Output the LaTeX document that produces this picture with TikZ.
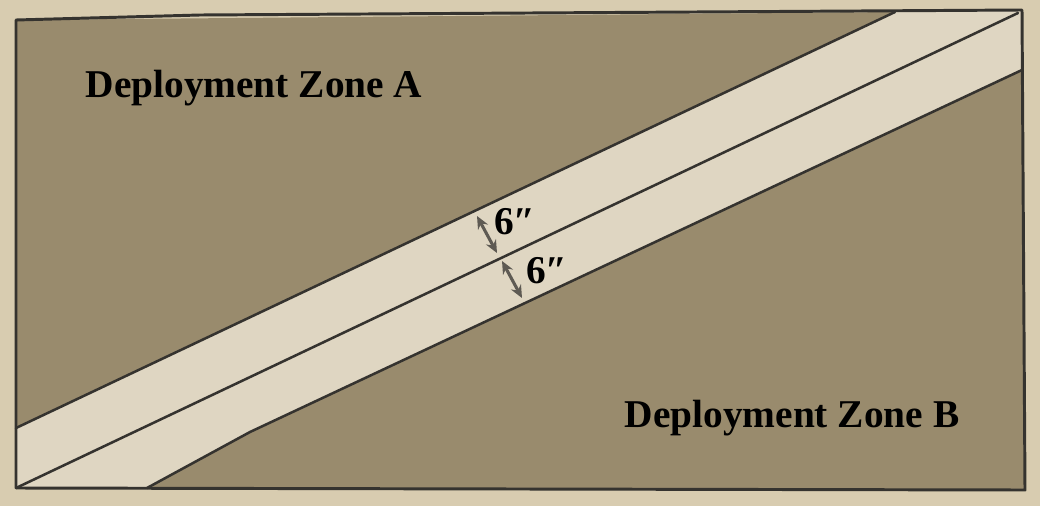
\documentclass[tikz,border=0pt]{standalone}
\usepackage{fontspec}
\setmainfont{Liberation Serif}
\usetikzlibrary{arrows.meta, positioning}
\definecolor{parch}{HTML}{D8CCB0}
\definecolor{zonefill}{HTML}{998B6D}
\definecolor{bandfill}{HTML}{DFD6C2}
\definecolor{inkdark}{HTML}{35332F}
\definecolor{inkgrey}{HTML}{5E5A53}

\tikzset{
  edgeline/.style={inkdark, line width=1.8pt, line join=round, line cap=round},
  frameline/.style={inkdark, line width=2.1pt, line join=round, line cap=round},
  zonelabel/.style={font=\fontsize{28}{30}\selectfont\bfseries, text=black, inner sep=0pt},
  gaplabel/.style={font=\fontsize{28}{30}\selectfont\bfseries, text=black, inner sep=0pt},
  gaparrow/.style={inkgrey, line width=2.2pt, {Stealth[length=9pt,width=8pt]}-{Stealth[length=9pt,width=8pt]}}
}

\begin{document}
\begin{tikzpicture}[x=0.025cm, y=-0.025cm]
\fill[parch] (0,0) rectangle (1040,506);
% table corners
\coordinate (tl) at (16,20);
\coordinate (tr) at (1022,10);
\coordinate (br) at (1025,490);
\coordinate (bl) at (16,488);
% band edges
\coordinate (upA) at (16,428);
\coordinate (upB) at (895,12);
\coordinate (midA) at (16,488);
\coordinate (midB) at (1018,13);
\coordinate (lowA) at (147,488);
\coordinate (lowK) at (250,432);
\coordinate (lowB) at (1022,70);
% zones and band
\fill[zonefill] (tl) -- (upB) -- (upA) -- cycle;
\fill[zonefill] (lowA) -- (lowK) -- (lowB) -- (br) -- cycle;
\fill[bandfill] (upA) -- (upB) -- (tr) -- (lowB) -- (lowK) -- (lowA) -- (bl) -- cycle;
\draw[edgeline] (upA) -- (upB);
\draw[edgeline] (midA) -- (midB);
\draw[edgeline] (lowA) -- (lowK) -- (lowB);
\draw[frameline] (tl) -- (200,15) -- (tr) -- (br) -- (bl) -- cycle;
% labels
\node[zonelabel] (labelA) at (254,88) {Deployment Zone A};
\node[zonelabel] (labelB) at (792,418) {Deployment Zone B};
% 6 inch gaps
\coordinate (gapUpT) at (477,216);
\coordinate (gapUpB) at (497,253);
\coordinate (gapLowT) at (502,261);
\coordinate (gapLowB) at (522,298);
\draw[gaparrow] (gapUpT) -- (gapUpB);
\draw[gaparrow] (gapLowT) -- (gapLowB);
\node[gaplabel] (sixUp) at (515,222) {6″};
\node[gaplabel] (sixDown) at (547,271) {6″};
\end{tikzpicture}
\end{document}
